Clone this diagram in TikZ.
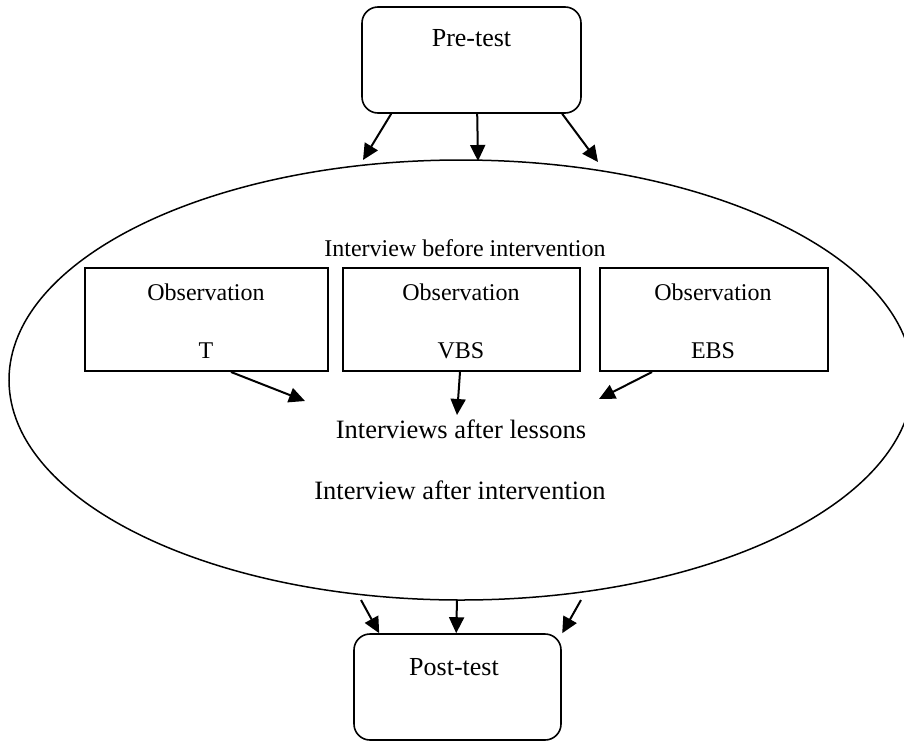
\documentclass[tikz,border=0pt]{standalone}
\usepackage{fontspec}
\setmainfont{Liberation Serif}
\usetikzlibrary{arrows.meta,shapes.geometric,calc}

\begin{document}
\begin{tikzpicture}[x=1pt,y=-1pt,
  txt/.style={anchor=base,inner sep=0pt,font=\fontsize{24}{28}\selectfont},
  bigtxt/.style={anchor=base,inner sep=0pt,font=\fontsize{26.5}{30}\selectfont},
  testbox/.style={draw,line width=1.6pt,rounded corners=16pt,inner sep=0pt},
  obsbox/.style={draw,line width=2pt,inner sep=0pt,minimum height=103pt},
  flow/.style={line width=2pt,-{Triangle[length=16pt,width=15pt]}}
]
\clip (0,0) rectangle (904,742);

% outer oval holding the intervention phase
\node[draw,ellipse,line width=1.5pt,inner sep=0pt,
      minimum width=904pt,minimum height=440pt] (oval) at (461,380) {};

% pre- and post-test boxes
\node[testbox,minimum width=219pt,minimum height=106pt] (pre) at (471.5,60) {};
\node[bigtxt,font=\fontsize{26}{30}\selectfont] (pretxt) at (471.5,46) {Pre-test};
\node[testbox,minimum width=207pt,minimum height=106pt] (post) at (457.5,687) {};
\node[bigtxt,font=\fontsize{26}{30}\selectfont] (posttxt) at (454,675) {Post-test};

% texts inside the oval
\node[txt] (before) at (465,256) {Interview before intervention};
\node[bigtxt] (lessons) at (461,438) {Interviews after lessons};
\node[bigtxt] (after) at (460,499) {Interview after intervention};

% observation boxes
\node[obsbox,minimum width=243pt] (obsT) at (206.5,319.5) {};
\node[obsbox,minimum width=237pt] (obsV) at (461.5,319.5) {};
\node[obsbox,minimum width=228pt] (obsE) at (714,319.5) {};
\foreach \b/\x/\lab in {T/206/T, V/461/VBS, E/713/EBS}{
  \node[txt] (obs\b top) at (\x,300) {Observation};
  \node[txt] (obs\b bot) at (\x,358) {\lab};
}

% arrow tips
\coordinate (p1) at (363,160);
\coordinate (p2) at (478,161);
\coordinate (p3) at (598,162);
\coordinate (m1) at (305,401);
\coordinate (m2) at (457,415);
\coordinate (m3) at (599,399);
\coordinate (q1) at (361,600);
\coordinate (q2) at (457,600);
\coordinate (q3) at (581,600);

% pre-test into the oval
\draw[flow] ($(pre.south west)+(30,0)$) -- (p1);
\draw[flow] ($(pre.south west)+(116,0)$) -- (p2);
\draw[flow] ($(pre.south west)+(201,0)$) -- (p3);

% observations into the lesson interviews
\draw[flow] ($(obsT.south west)+(147,0)$) -- (m1);
\draw[flow] ($(obsV.south west)+(118,0)$) -- (m2);
\draw[flow] ($(obsE.south west)+(53,0)$) -- (m3);

% oval into the post-test
\draw[flow] (q1) -- ($(post.north west)+(26,0)$);
\draw[flow] (q2) -- ($(post.north west)+(103,0)$);
\draw[flow] (q3) -- ($(post.north west)+(209,0)$);
\end{tikzpicture}
\end{document}
